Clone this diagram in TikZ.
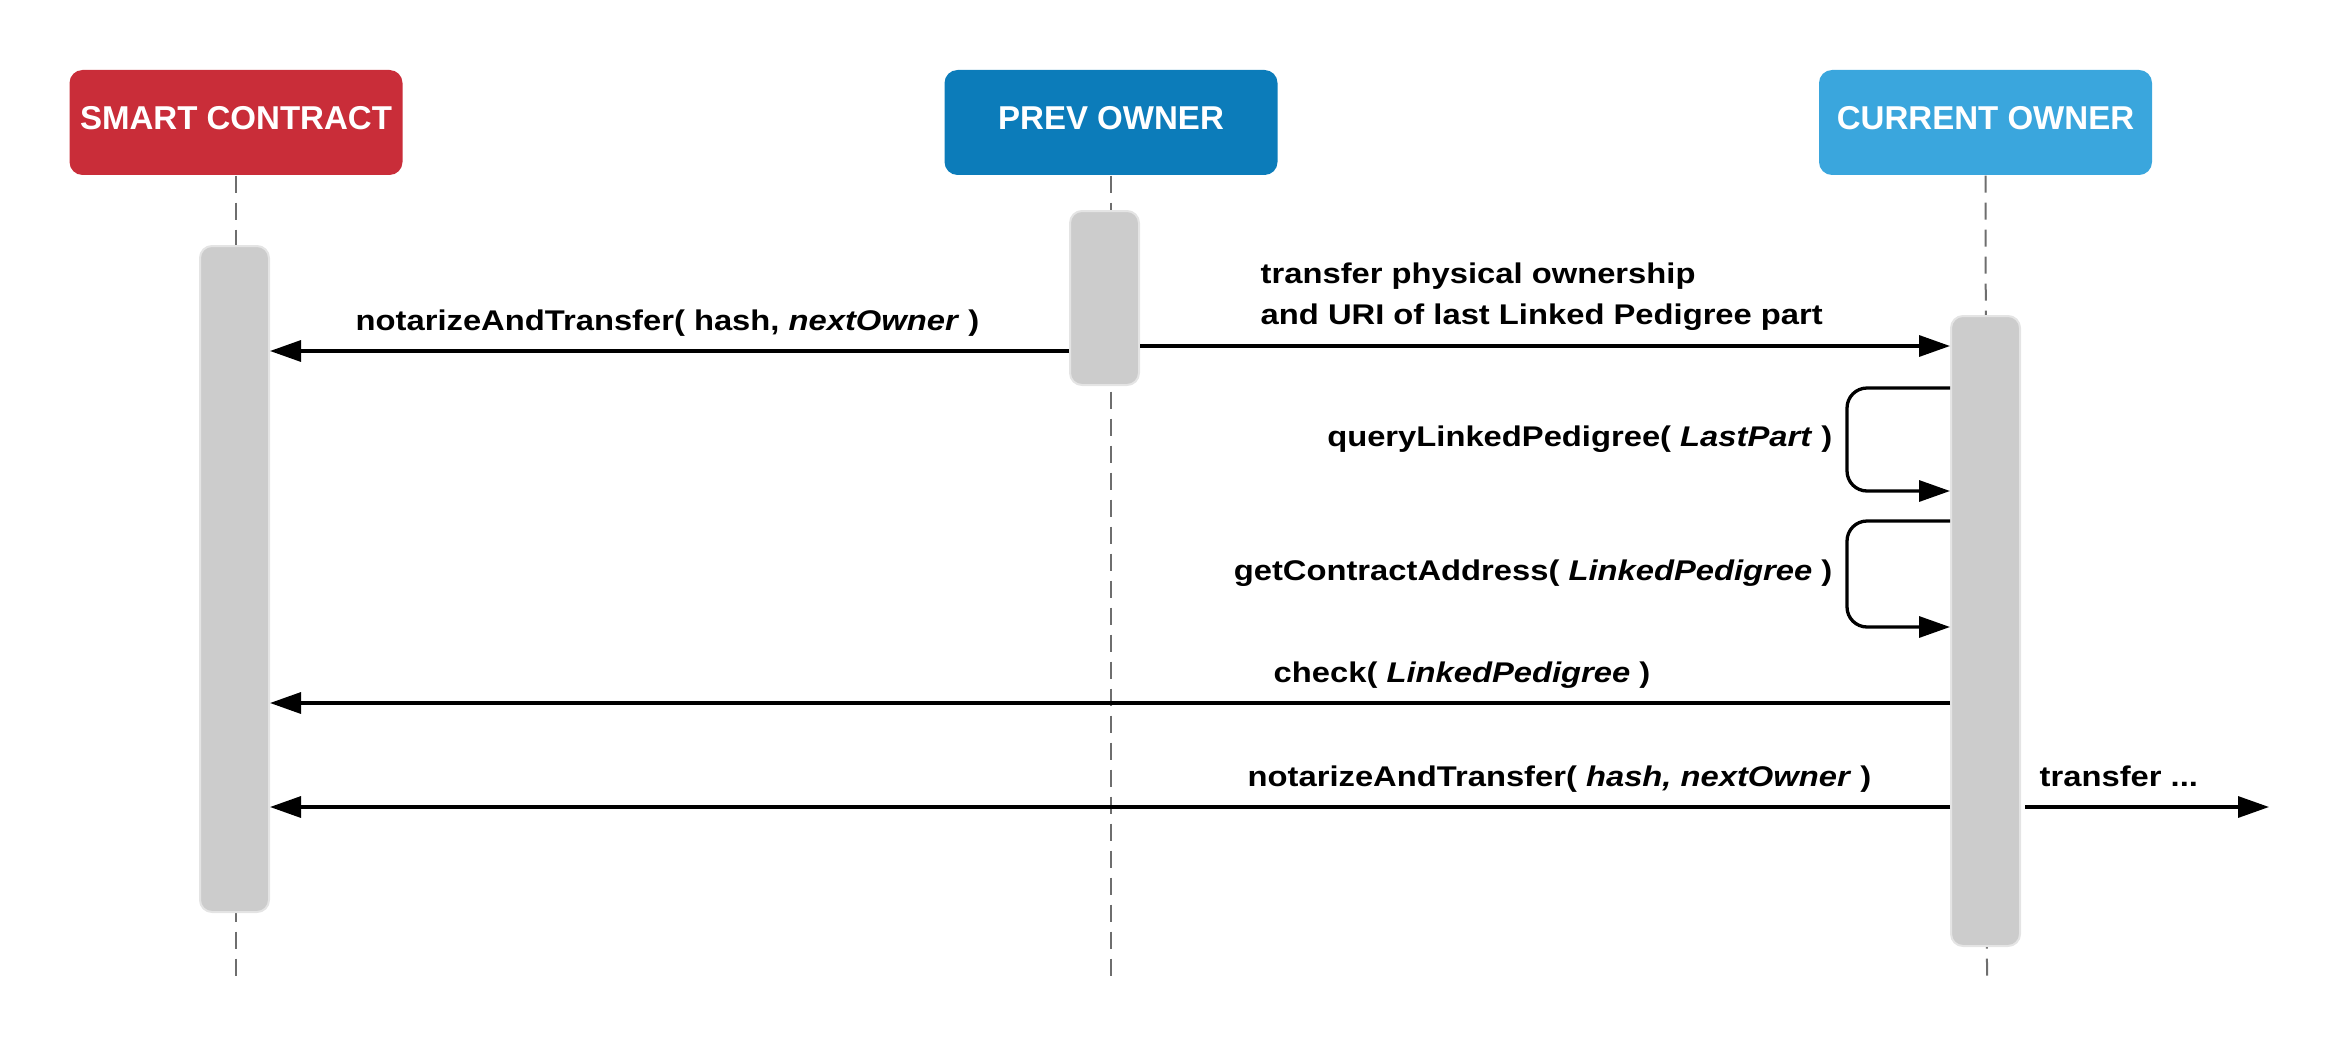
\documentclass[tikz,border=0pt]{standalone}
\usepackage{fontspec}
\setmainfont{Liberation Sans}
\newfontfamily\msgfont{Liberation Sans}[FakeStretch=1.15]
\usepackage{xcolor}
\definecolor{seqRed}{HTML}{C92D39}
\definecolor{seqBlue}{HTML}{0C7CBA}
\definecolor{seqSky}{HTML}{3AA6DD}
\definecolor{seqBar}{HTML}{CCCCCC}
\definecolor{seqBarEdge}{HTML}{E4E4E4}
\definecolor{seqLine}{HTML}{6E6E6E}
\usepackage{tikz}
\usetikzlibrary{arrows.meta,positioning,calc}
\tikzset{
    actor/.style={
        rectangle,
        rounded corners=1.3mm,
        minimum width=33.3mm,
        minimum height=10.5mm,
        inner sep=0pt,
        text height=2.37mm,
        text depth=0.9mm,
        text=white,
        font=\fontsize{9.4}{11}\selectfont\bfseries
    },
    bar/.style={
        rectangle,
        rounded corners=1.2mm,
        fill=seqBar,
        draw=seqBarEdge,
        line width=0.2mm,
        minimum width=6.9mm,
        inner sep=0pt
    },
    lifeline/.style={
        draw=seqLine,
        line width=0.2mm,
        dash pattern=on 1.7mm off 1mm
    },
    arrow/.style={
        -{Triangle[length=3.1mm,width=2.1mm]},
        line width=0.33mm,
        color=black
    },
    msg/.style={
        font=\msgfont\fontsize{8.1}{11.4}\selectfont\bfseries,
        inner sep=0pt,
        align=left
    }
}

\begin{document}
\begin{tikzpicture}[x=0.1mm, y=-0.1mm]
    \useasboundingbox (0,0) rectangle (2340,1053);

    % Participants
    \node[actor, fill=seqRed] (sc) at (236,122.5) {SMART CONTRACT};
    \node[actor, fill=seqBlue] (prev) at (1111,122.5) {PREV OWNER};
    \node[actor, fill=seqSky] (cur) at (1985.5,122.5) {CURRENT OWNER};

    % Lifelines
    \coordinate (scend) at (236,983);
    \coordinate (prevend) at (1111,983);
    \coordinate (curend) at (1987,983);
    \draw[lifeline] (sc.south) -- (scend);
    \draw[lifeline] (prev.south) -- (prevend);
    \draw[lifeline] (cur.south) -- (curend);

    % Activation bars
    \node[bar, minimum height=66.6mm] (scbar) at (234.5,579) {};
    \node[bar, minimum height=17.4mm] (prevbar) at (1104.5,298) {};
    \node[bar, minimum height=63mm] (curbar) at (1985.5,631) {};

    % Message rows
    \coordinate (m1) at (0,351);
    \coordinate (m2) at (0,346);
    \coordinate (q1) at (0,388);
    \coordinate (q2) at (0,491);
    \coordinate (g1) at (0,521);
    \coordinate (g2) at (0,627);
    \coordinate (m3) at (0,703);
    \coordinate (m4) at (0,807);
    \coordinate (out) at (2269,807);

    % Connections
    \draw[arrow] (prevbar.west |- m1) -- (scbar.east |- m1);
    \draw[arrow] (prevbar.east |- m2) -- (curbar.west |- m2);
    \draw[arrow, rounded corners=2mm] (curbar.west |- q1) -- ++(-103,0) |- (curbar.west |- q2);
    \draw[arrow, rounded corners=2mm] (curbar.west |- g1) -- ++(-103,0) |- (curbar.west |- g2);
    \draw[arrow] (curbar.west |- m3) -- (scbar.east |- m3);
    \draw[arrow] (curbar.west |- m4) -- (scbar.east |- m4);
    \draw[arrow] ([xshift=0.4mm]curbar.east |- m4) -- (out);

    % Labels
    \node[msg, anchor=base west] (l1) at (355,330) {notarizeAndTransfer( hash, \textit{nextOwner} )};
    \node[msg, anchor=base west] (l2) at (1260,324) {transfer physical ownership\\and URI of last Linked Pedigree part};
    \node[msg, anchor=base east] (l3) at (1833,446) {queryLinkedPedigree( \textit{LastPart} )};
    \node[msg, anchor=base east] (l4) at (1833,580) {getContractAddress( \textit{LinkedPedigree} )};
    \node[msg, anchor=base west] (l5) at (1273,682) {check( \textit{LinkedPedigree} )};
    \node[msg, anchor=base west] (l6) at (1247,786) {notarizeAndTransfer( \textit{hash, nextOwner} )};
    \node[msg, anchor=base west] (l7) at (2039,786) {transfer ...};
\end{tikzpicture}
\end{document}
